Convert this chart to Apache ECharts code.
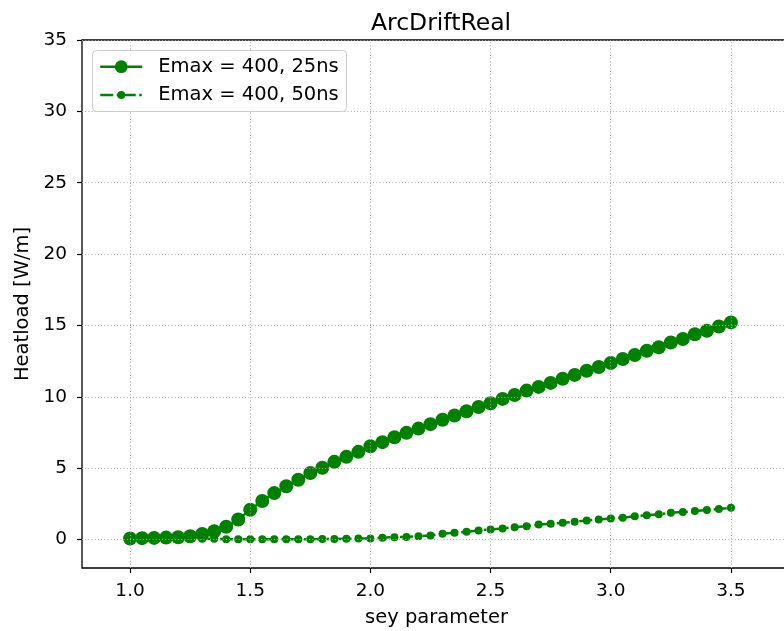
<!DOCTYPE html>
<html>
<head>
<meta charset="utf-8">
<script src="https://cdn.jsdelivr.net/npm/echarts@6/dist/echarts.min.js"></script>
<style>html,body{margin:0;padding:0;background:#fff}#c{width:784px;height:631px}</style>
</head>
<body>
<div id="c"></div>
<script>
var sey = [1.0,1.05,1.1,1.15,1.2,1.25,1.3,1.35,1.4,1.45,1.5,1.55,1.6,1.65,1.7,1.75,1.8,1.85,1.9,1.95,2.0,2.05,2.1,2.15,2.2,2.25,2.3,2.35,2.4,2.45,2.5,2.55,2.6,2.65,2.7,2.75,2.8,2.85,2.9,2.95,3.0,3.05,3.1,3.15,3.2,3.25,3.3,3.35,3.4,3.45,3.5];
var heat25 = [0.07,0.09,0.11,0.13,0.16,0.22,0.38,0.58,0.89,1.4,2.08,2.7,3.25,3.73,4.18,4.66,5.03,5.44,5.79,6.14,6.53,6.82,7.16,7.47,7.77,8.08,8.39,8.69,8.98,9.28,9.55,9.85,10.12,10.43,10.69,10.97,11.26,11.53,11.82,12.09,12.37,12.65,12.93,13.22,13.47,13.8,14.05,14.38,14.63,14.92,15.21];
var heat50 = [0.05,0.05,0.05,0.05,0.05,0.05,0.05,0.05,0.02,0.01,0.01,0.01,0.01,0.01,0.02,0.02,0.03,0.04,0.05,0.06,0.07,0.12,0.16,0.18,0.23,0.28,0.4,0.47,0.54,0.63,0.7,0.77,0.86,0.93,1.04,1.1,1.17,1.24,1.33,1.4,1.47,1.53,1.63,1.7,1.76,1.87,1.92,1.99,2.06,2.14,2.22];
var xTicks = [1.0,1.5,2.0,2.5,3.0,3.5];
var yTicks = [0,5,10,15,20,25,30,35];
var seriesNames = ['Emax = 400, 25ns','Emax = 400, 50ns'];
var titleText = 'ArcDriftReal';
var xName = 'sey parameter';
var yName = 'Heatload [W/m]';

var FONT = 'DejaVu Sans';
var GREEN = '#008000';
var chart = echarts.init(document.getElementById('c'), null, {renderer:'canvas'});
function pairs(xs, ys){ return xs.map(function(x,i){ return [x, ys[i]]; }); }
var gridLS = {type:[1,2.2], color:'#aaaaaa', width:1};
var legendText = {fontFamily:FONT, fontSize:19.5, color:'#000', lineHeight:22, padding:[0,0,0,11]};
var option = {
  animation:false,
  backgroundColor:'#fff',
  title:{text:titleText, left:436, top:7, textAlign:'center',
    textStyle:{fontFamily:FONT, fontSize:23.5, fontWeight:'normal', color:'#000'}},
  grid:{left:82, top:40, right:-7, bottom:63, outerBoundsMode:'none', containLabel:false,
    show:true, borderColor:'#000', borderWidth:1.3, backgroundColor:'transparent'},
  graphic:[{type:'rect', z:10, shape:{x:92.5, y:50.5, width:254, height:61, r:4},
    style:{fill:'rgba(255,255,255,0.85)', stroke:'#cccccc', lineWidth:1}}],
  legend:[
    {left:99, top:55.7, padding:0, itemWidth:42, itemHeight:16, z:20,
      lineStyle:{width:2.5}, textStyle:legendText, data:[seriesNames[0]]},
    {left:99, top:84, padding:0, itemWidth:42, itemHeight:10, z:20,
      lineStyle:{width:2.5}, textStyle:legendText, data:[seriesNames[1]]}
  ],
  xAxis:{type:'value', min:0.8, max:3.75,
    name:xName, nameLocation:'middle', nameGap:40,
    nameTextStyle:{fontFamily:FONT, fontSize:19.5, color:'#000'},
    axisLine:{show:false, onZero:false}, splitLine:{show:false},
    axisTick:{show:true, length:5, customValues:xTicks, lineStyle:{color:'#000', width:1.2}},
    axisLabel:{customValues:xTicks, margin:14, fontFamily:FONT, fontSize:18.5, color:'#000',
      formatter:function(v){return v.toFixed(1);}}},
  yAxis:{type:'value', min:-2, max:35,
    name:yName, nameLocation:'middle', nameGap:47, nameRotate:90,
    nameTextStyle:{fontFamily:FONT, fontSize:19.5, color:'#000'},
    axisLine:{show:false, onZero:false}, splitLine:{show:false},
    axisTick:{show:true, length:5, customValues:yTicks, lineStyle:{color:'#000', width:1.2}},
    axisLabel:{customValues:yTicks, margin:15, fontFamily:FONT, fontSize:18.5, color:'#000'}},
  series:[
    {type:'line', name:'gridlines', data:[], z:1, silent:true,
      markLine:{silent:true, symbol:'none', label:{show:false}, lineStyle:gridLS, animation:false,
        data: xTicks.map(function(v){return {xAxis:v};}).concat(yTicks.map(function(v){return {yAxis:v};}))}},
    {type:'line', name:seriesNames[0], data:pairs(sey, heat25), z:3,
      symbol:'circle', symbolSize:14, showSymbol:true,
      itemStyle:{color:GREEN}, lineStyle:{color:GREEN, width:2.5}},
    {type:'line', name:seriesNames[1], data:pairs(sey, heat50), z:4,
      symbol:'circle', symbolSize:8, showSymbol:true,
      itemStyle:{color:GREEN}, lineStyle:{color:GREEN, width:2.5, type:[13,3.5,2.5,3.5]}}
  ]
};
chart.setOption(option);
</script>
</body>
</html>
